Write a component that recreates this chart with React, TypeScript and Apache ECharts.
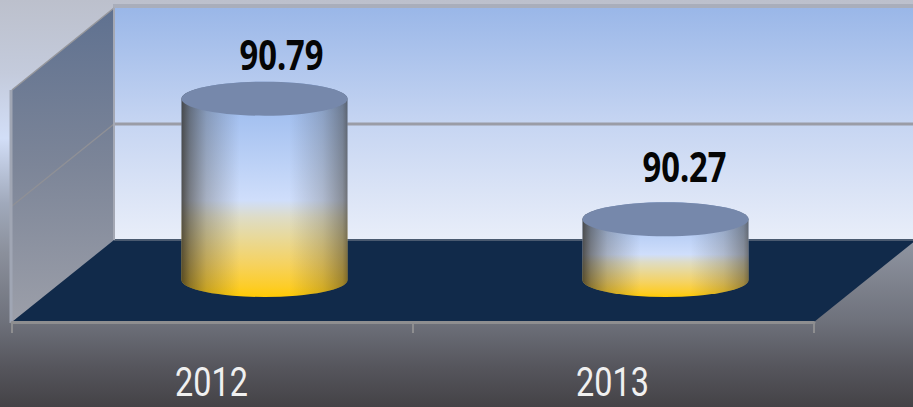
import React, { useEffect, useRef } from "react";
import * as echarts from "echarts";

const categories = ["2012", "2013"];
const values = [90.79, 90.27];
const yMin = 90;
const yMax = 91;
const yTicks = [90, 90.5, 91];

const DEPTH_X = 102;
const DEPTH_Y = 82;
const FONT = '"Noto Sans", "Open Sans", sans-serif';
const CATEGORY_FONT = 'Roboto, "Noto Sans", sans-serif';
const LABEL_LIFT = [44, 53];
const LABEL_SHIFT = [17, 19];
const SQUEEZE_BOLD = 0.78;
const SQUEEZE_REGULAR = 0.79;

function lin(x0: number, y0: number, x1: number, y1: number, stops: [number, string][]) {
  return new echarts.graphic.LinearGradient(
    x0, y0, x1, y1,
    stops.map(([offset, color]) => ({ offset, color }))
  );
}

function renderWalls(_: any, api: any) {
  const bl = api.coord([0, yMin]);
  const tl = api.coord([0, yMax]);
  const halfBand = api.size([1, 0])[0] / 2;
  const left = bl[0] - halfBand;
  const right = left + halfBand * 4;
  const bottom = bl[1];
  const top = tl[1];
  const children: any[] = [];
  // back wall
  children.push({
    type: "rect",
    shape: { x: left + DEPTH_X, y: top - DEPTH_Y, width: right - left, height: bottom - top },
    style: {
      fill: lin(0, 0, 0, 1, [[0, "#9ab7e8"], [0.5, "#c6d5f2"], [1, "#e9eef9"]]),
    },
  });
  // top band of the back wall
  children.push({
    type: "rect",
    shape: { x: left + DEPTH_X - 1, y: top - DEPTH_Y - 4, width: right - left, height: 4 },
    style: { fill: "#a9aebb" },
  });
  // left wall
  children.push({
    type: "polygon",
    shape: {
      points: [
        [left, top],
        [left + DEPTH_X, top - DEPTH_Y],
        [left + DEPTH_X, bottom - DEPTH_Y],
        [left, bottom],
      ],
    },
    style: {
      fill: lin(0, 0, 0, 1, [[0, "#5f7190"], [0.5, "#7c8598"], [1, "#9c9fa9"]]),
    },
  });
  // left wall upper edge
  children.push({
    type: "line",
    shape: { x1: left, y1: top, x2: left + DEPTH_X, y2: top - DEPTH_Y },
    style: { stroke: "#96979c", lineWidth: 1.5 },
  });
  // floor
  children.push({
    type: "polygon",
    shape: {
      points: [
        [left, bottom],
        [left + DEPTH_X, bottom - DEPTH_Y],
        [right + DEPTH_X, bottom - DEPTH_Y],
        [right, bottom],
      ],
    },
    style: { fill: "#112a4a" },
  });
  // floor back edge
  children.push({
    type: "line",
    shape: { x1: left + DEPTH_X, y1: bottom - DEPTH_Y, x2: right + DEPTH_X, y2: bottom - DEPTH_Y },
    style: { stroke: "#4a5a70", lineWidth: 2 },
  });
  // grid lines
  yTicks.slice(1, -1).forEach((t) => {
    const y = api.coord([0, t])[1];
    children.push({
      type: "line",
      shape: { x1: left, y1: y, x2: left + DEPTH_X, y2: y - DEPTH_Y },
      style: { stroke: "#8f9096", lineWidth: 1.5 },
    });
    children.push({
      type: "line",
      shape: { x1: left + DEPTH_X, y1: y - DEPTH_Y, x2: right + DEPTH_X, y2: y - DEPTH_Y },
      style: { stroke: "#9a9ca6", lineWidth: 3 },
    });
  });
  // wall edges
  children.push({
    type: "line",
    shape: { x1: left + DEPTH_X, y1: top - DEPTH_Y, x2: left + DEPTH_X, y2: bottom - DEPTH_Y },
    style: { stroke: "#a4a8b4", lineWidth: 2 },
  });
  children.push({
    type: "line",
    shape: { x1: left - 1, y1: top, x2: left - 1, y2: bottom + 1 },
    style: { stroke: "#a0a6b4", lineWidth: 3 },
  });
  return { type: "group", children };
}

function renderCylinder(params: any, api: any) {
  const cat = api.value(0);
  const val = api.value(1);
  const halfBand = api.size([1, 0])[0] / 2;
  const base = api.coord([cat, yMin]);
  const head = api.coord([cat, val]);
  const cx = base[0] + DEPTH_X / 2 + 1;
  const by = base[1] - DEPTH_Y / 2 - 1;
  const ty = head[1] - DEPTH_Y / 2 + 1;
  const rx = halfBand * 0.414;
  const ry = 17;
  const d =
    `M${cx - rx} ${ty} L${cx - rx} ${by} A${rx} ${ry} 0 0 0 ${cx + rx} ${by} ` +
    `L${cx + rx} ${ty} A${rx} ${ry} 0 0 0 ${cx - rx} ${ty} Z`;
  const path = (style: any) => ({
    type: "path",
    shape: { pathData: d, layout: "none" },
    style,
  });
  return {
    type: "group",
    children: [
      path({
        fill: lin(0, 0, 0, 1, [
          [0, "#8aabe4"],
          [0.15, "#a3c0f0"],
          [0.55, "#cfdefb"],
          [0.63, "#dedcc6"],
          [0.72, "#e8d99b"],
          [0.85, "#f6d25e"],
          [0.95, "#fdcd28"],
          [1, "#ffca05"],
        ]),
      }),
      path({
        fill: lin(0, 0, 1, 0, [
          [0, "rgba(45,40,30,0.78)"],
          [0.05, "rgba(50,45,35,0.55)"],
          [0.15, "rgba(60,55,45,0.28)"],
          [0.35, "rgba(60,60,60,0)"],
          [0.65, "rgba(60,60,60,0)"],
          [0.85, "rgba(60,55,45,0.22)"],
          [0.97, "rgba(50,45,35,0.45)"],
          [1, "rgba(45,40,30,0.6)"],
        ]),
      }),
      {
        type: "ellipse",
        shape: { cx, cy: ty, rx, ry },
        style: { fill: "#7688ab" },
      },
      {
        type: "text",
        x: cx + LABEL_SHIFT[params.dataIndex],
        y: head[1] - DEPTH_Y / 2 - LABEL_LIFT[params.dataIndex],
        scaleX: SQUEEZE_BOLD,
        style: {
          x: 0,
          y: 0,
          text: val.toFixed(2),
          fill: "#050505",
          font: `bold 42px ${FONT}`,
          align: "center",
          verticalAlign: "middle",
        },
      },
    ],
  };
}

function renderCategoryLabel(_: any, api: any) {
  const p = api.coord([api.value(0), yMin]);
  return {
    type: "text",
    x: p[0] - 1,
    y: p[1] + 60,
    scaleX: SQUEEZE_REGULAR,
    style: {
      x: 0,
      y: 0,
      text: categories[api.value(0)],
      fill: "#f0f0f0",
      font: `41px ${CATEGORY_FONT}`,
      align: "center",
      verticalAlign: "middle",
    },
  };
}

export default function App() {
  const ref = useRef<HTMLDivElement>(null);
  useEffect(() => {
    document.body.style.margin = "0";
    const chart = echarts.init(ref.current!, undefined, { renderer: "svg" });
    chart.setOption({
      animation: false,
      backgroundColor: lin(0, 0, 0, 1, [
        [0, "#bcc0cc"],
        [0.18, "#c4cbdc"],
        [0.34, "#d2def7"],
        [0.5, "#a0a9bb"],
        [0.62, "#8b909c"],
        [0.79, "#6e717b"],
        [0.9, "#56565d"],
        [1, "#444246"],
      ]),
      grid: { left: 12, top: 90, width: 802, height: 232 },
      xAxis: {
        type: "category",
        data: categories,
        z: 5,
        axisLine: { show: true, lineStyle: { color: "#8e8e90", width: 3 } },
        axisTick: { show: true, length: 11, lineStyle: { color: "#8e8e90", width: 2 } },
        axisLabel: { show: false },
      },
      yAxis: {
        type: "value",
        min: yMin,
        max: yMax,
        interval: 0.5,
        show: false,
      },
      series: [
        {
          type: "custom",
          name: "walls",
          z: 1,
          silent: true,
          clip: false,
          renderItem: renderWalls,
          data: [[0, yMin]],
          encode: { x: 0, y: 1 },
        },
        {
          type: "custom",
          name: "values",
          z: 3,
          clip: false,
          renderItem: renderCylinder,
          data: categories.map((_, i) => [i, values[i]]),
          encode: { x: 0, y: 1 },
        },
        {
          type: "custom",
          name: "categories",
          z: 4,
          silent: true,
          clip: false,
          renderItem: renderCategoryLabel,
          data: categories.map((_, i) => [i, yMin]),
          encode: { x: 0, y: 1 },
        },
      ],
    });
    return () => chart.dispose();
  }, []);
  return <div ref={ref} style={{ position: "absolute", left: 0, top: 0, width: 913, height: 407 }} />;
}
